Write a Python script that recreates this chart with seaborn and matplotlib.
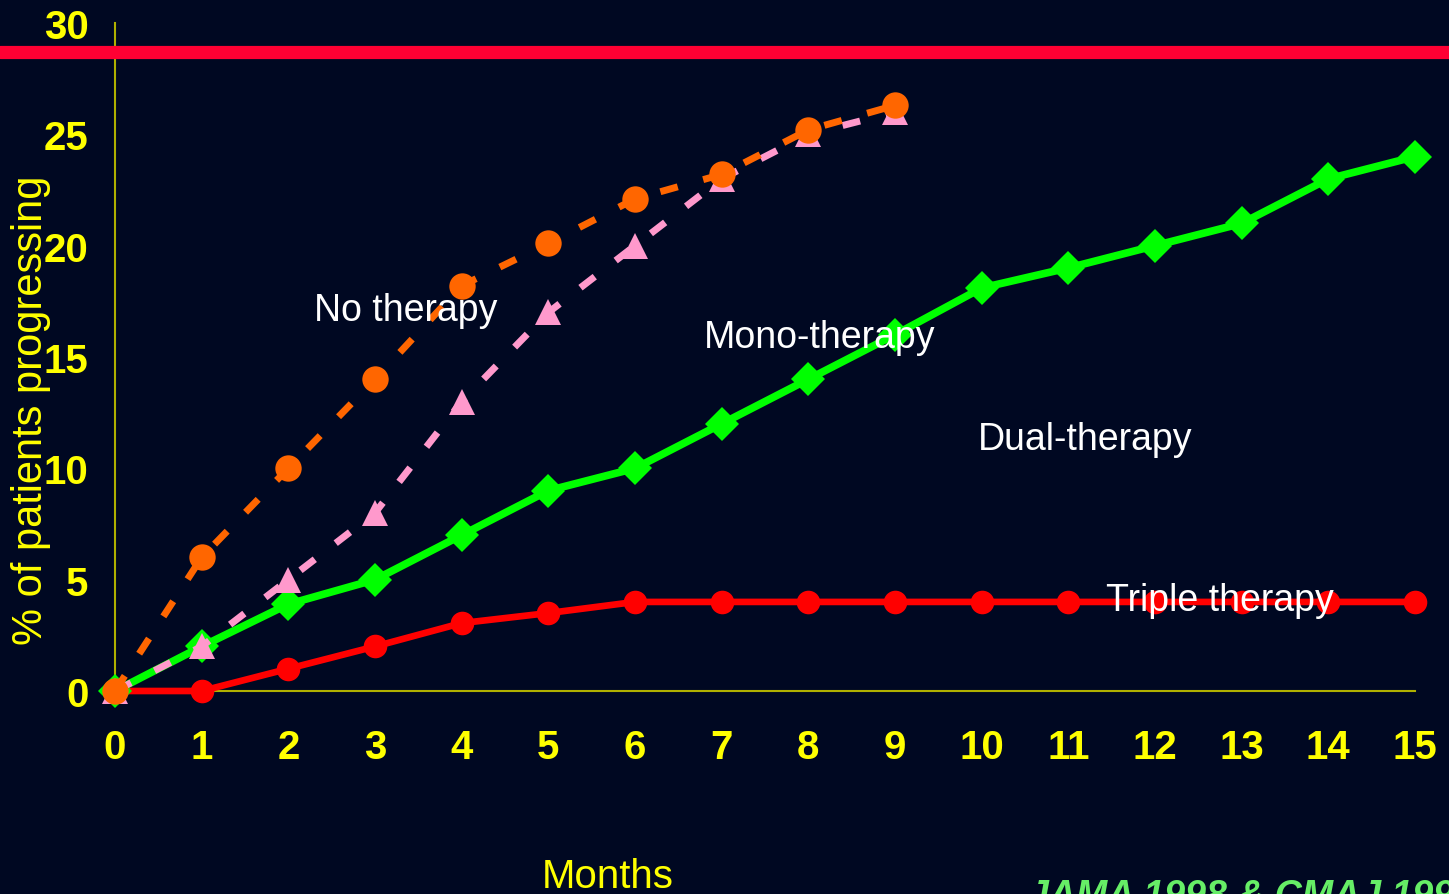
import matplotlib
matplotlib.use("Agg")
import matplotlib.pyplot as plt
from matplotlib.lines import Line2D
import seaborn as sns
import pandas as pd

# Cumulative % of patients progressing, by month
months_short = [0, 1, 2, 3, 4, 5, 6, 7, 8, 9]
months_long = list(range(16))
no_therapy = [0, 6, 10, 14, 18.2, 20.1, 22.1, 23.2, 25.2, 26.3]
mono_therapy = [0, 2, 5, 8, 13, 17, 20, 23, 25, 26]
dual_therapy = [0, 2, 3.9, 5, 7, 9, 10, 12, 14, 16, 18.1, 19, 20, 21, 23, 24]
triple_therapy = [0, 0, 1, 2, 3.05, 3.5, 4, 4, 4, 4, 4, 4, 4, 4, 4, 4]

x_ticks = list(range(16))
y_ticks = [0, 5, 10, 15, 20, 25, 30]

BG = "#000822"
YELLOW = "#FFFF00"
AXIS = "#B0B000"

sns.set_style("dark")
plt.rcParams["font.family"] = ["Liberation Sans", "DejaVu Sans"]

fig = plt.figure(figsize=(14.49, 8.95), dpi=100, facecolor=BG)
ax = fig.add_axes([115 / 1449, 1 - 692 / 895, 1300 / 1449, 668 / 895])
ax.set_facecolor(BG)

df_triple = pd.DataFrame({"m": months_long, "v": triple_therapy})
df_dual = pd.DataFrame({"m": months_long, "v": dual_therapy})
df_mono = pd.DataFrame({"m": months_short, "v": mono_therapy})
df_none = pd.DataFrame({"m": months_short, "v": no_therapy})

dash = (0, (2.6, 3.8))
sns.lineplot(data=df_triple, x="m", y="v", ax=ax, color="#FF0000", lw=4.8,
             marker="o", markersize=17, markeredgewidth=0, clip_on=False, zorder=3)
sns.lineplot(data=df_dual, x="m", y="v", ax=ax, color="#00FF00", lw=5.5,
             marker="D", markersize=17, markeredgewidth=0, clip_on=False, zorder=4)
sns.lineplot(data=df_mono, x="m", y="v", ax=ax, color="#FF99CC", lw=5,
             linestyle=dash, marker="^", markersize=19,
             markeredgewidth=0, clip_on=False, zorder=5)
sns.lineplot(data=df_none, x="m", y="v", ax=ax, color="#FF6600", lw=5,
             linestyle=dash, marker="o", markersize=19,
             markeredgewidth=0, clip_on=False, zorder=6)

ax.set_xlim(0, 15)
ax.set_ylim(0, 30)
ax.set_xticks(x_ticks)
ax.set_yticks(y_ticks)
ax.set_xticklabels([str(t) for t in x_ticks])
ax.set_yticklabels([str(t) for t in y_ticks])
ax.grid(False)

for side in ("top", "right"):
    ax.spines[side].set_visible(False)
for side in ("left", "bottom"):
    ax.spines[side].set_visible(True)
    ax.spines[side].set_color(AXIS)
    ax.spines[side].set_linewidth(1.5)

ax.tick_params(axis="both", colors=AXIS, direction="out", length=10, width=1.5,
               labelcolor=YELLOW, labelsize=29)
ax.tick_params(axis="x", pad=17)
ax.tick_params(axis="y", pad=9)
for lbl in ax.get_xticklabels() + ax.get_yticklabels():
    lbl.set_fontweight("bold")

ax.set_xlabel("")
ax.set_ylabel("")

# Axis titles
fig.text(31 / 1449, 1 - 410 / 895, "% of patients progressing", color=YELLOW,
         fontsize=30, rotation=90, ha="center", va="center")
fig.text(608 / 1449, 1 - 877 / 895, "Months", color=YELLOW, fontsize=29,
         ha="center", va="center")

# Series labels
ax.text(3.35, 17.1, "No therapy", color="white", fontsize=27, ha="center", va="center", zorder=7)
ax.text(8.13, 15.9, "Mono-therapy", color="white", fontsize=27, ha="center", va="center", zorder=7)
ax.text(11.19, 11.3, "Dual-therapy", color="white", fontsize=27, ha="center", va="center", zorder=7)
ax.text(12.75, 4.1, "Triple therapy", color="white", fontsize=27, ha="center", va="center", zorder=7)

# Source citation along the bottom edge
fig.text(1028 / 1449, 1 - 897 / 895, "JAMA 1998 & CMAJ 1998", color="#66EE66",
         fontsize=27, fontweight="bold", fontstyle="italic", ha="left", va="center")

# Red banner rule across the top
fig.add_artist(Line2D([0, 1], [1 - 52.5 / 895, 1 - 52.5 / 895], color="#FF0033",
                      lw=9.5, transform=fig.transFigure))

fig.savefig("out.png", dpi=100, facecolor=BG)
